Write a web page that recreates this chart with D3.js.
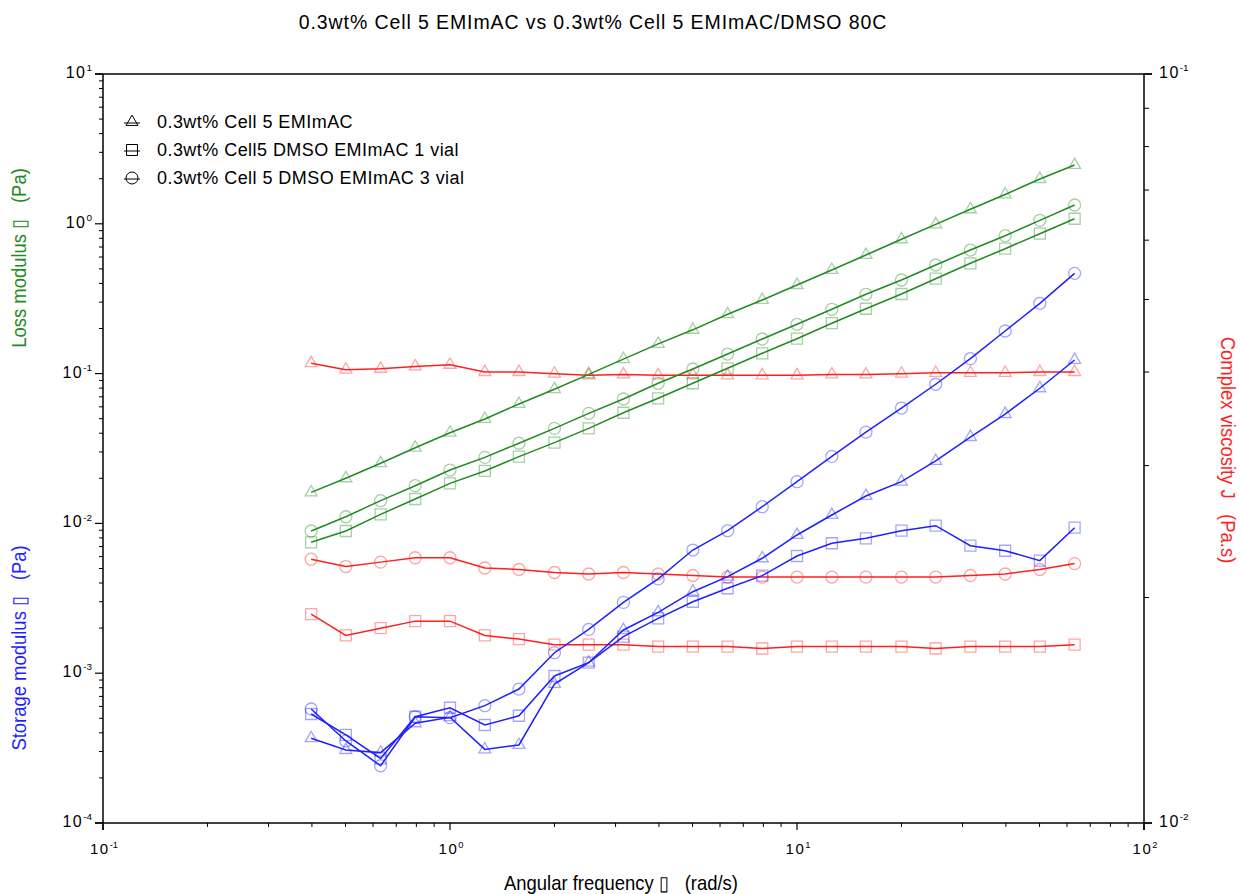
<!DOCTYPE html>
<html>
<head>
<meta charset="utf-8">
<script src="https://cdn.jsdelivr.net/npm/d3@7"></script>
<style>
  html, body { margin: 0; padding: 0; background: #fff; }
  svg { display: block; font-family: "Liberation Sans", Arial, sans-serif; }
  text { white-space: pre; }
</style>
</head>
<body>
<svg id="chart" width="1241" height="894"></svg>
<script>
// Angular frequency sweep (rad/s)
const freq = [0.398, 0.501, 0.631, 0.794, 1.0, 1.26, 1.58, 2.0, 2.51, 3.16, 3.98, 5.01,
              6.31, 7.94, 10.0, 12.6, 15.8, 20.0, 25.1, 31.6, 39.8, 50.1, 63.1];

// Loss modulus G'' (Pa)
const lossCell5 = [0.0161, 0.0200, 0.0252, 0.0320, 0.0403, 0.0498, 0.0627, 0.0786, 0.0989, 0.125, 0.158, 0.196,
                   0.249, 0.310, 0.390, 0.492, 0.619, 0.788, 0.992, 1.25, 1.57, 1.99, 2.47];
const lossVial1 = [0.00748, 0.00890, 0.0115, 0.01455, 0.0185, 0.0224, 0.0279, 0.0346, 0.0431, 0.0548, 0.0684, 0.0862,
                   0.1085, 0.1366, 0.171, 0.217, 0.271, 0.340, 0.430, 0.545, 0.682, 0.859, 1.081];
const lossVial3 = [0.0089, 0.01108, 0.01418, 0.01785, 0.0227, 0.0276, 0.0343, 0.0431, 0.0543, 0.0677, 0.0862, 0.1073,
                   0.1351, 0.1702, 0.2134, 0.2687, 0.3384, 0.4215, 0.531, 0.668, 0.833, 1.055, 1.335];

// Storage modulus G' (Pa)
const storCell5 = [3.68e-4, 3.07e-4, 2.95e-4, 4.63e-4, 5.08e-4, 3.10e-4, 3.32e-4, 8.47e-4, 1.175e-3, 1.943e-3, 2.55e-3, 3.50e-3,
                   4.41e-3, 5.85e-3, 8.37e-3, 1.138e-2, 1.524e-2, 1.90e-2, 2.61e-2, 3.77e-2, 5.37e-2, 7.98e-2, 0.1233];
const storVial1 = [5.34e-4, 3.87e-4, 2.70e-4, 5.12e-4, 5.88e-4, 4.51e-4, 5.20e-4, 9.58e-4, 1.175e-3, 1.753e-3, 2.325e-3, 3.00e-3,
                   3.69e-3, 4.48e-3, 6.06e-3, 7.37e-3, 7.95e-3, 8.94e-3, 9.65e-3, 7.10e-3, 6.57e-3, 5.64e-3, 9.36e-3];
const storVial3 = [5.77e-4, 3.53e-4, 2.41e-4, 5.12e-4, 5.05e-4, 6.07e-4, 7.84e-4, 1.37e-3, 1.96e-3, 2.97e-3, 4.26e-3, 6.64e-3,
                   8.94e-3, 1.293e-2, 1.899e-2, 2.80e-2, 4.07e-2, 5.89e-2, 8.49e-2, 0.1258, 0.1925, 0.2946, 0.467];

// Complex viscosity (Pa.s)
const viscCell5 = [0.0411, 0.0403, 0.0404, 0.0407, 0.0409, 0.0400, 0.0400, 0.0398, 0.0396, 0.0397, 0.0396, 0.0396,
                   0.0396, 0.0396, 0.0396, 0.0397, 0.0397, 0.0398, 0.0399, 0.0399, 0.0399, 0.0400, 0.0400];
const viscVial1 = [0.0190, 0.0178, 0.0182, 0.0186, 0.0186, 0.0178, 0.0176, 0.0173, 0.0173, 0.0173, 0.0172, 0.0172,
                   0.0172, 0.0171, 0.0172, 0.0172, 0.0172, 0.0172, 0.0171, 0.0172, 0.0172, 0.0172, 0.0173];
const viscVial3 = [0.0225, 0.0220, 0.0223, 0.0226, 0.0226, 0.0219, 0.0218, 0.0216, 0.0215, 0.0216, 0.0215, 0.0214,
                   0.0213, 0.0213, 0.0213, 0.0213, 0.0213, 0.0213, 0.0213, 0.0214, 0.0215, 0.0218, 0.0222];

// Samples and their marker shapes
const sampleNames = ["0.3wt% Cell 5 EMImAC", "0.3wt% Cell5 DMSO EMImAC 1 vial", "0.3wt% Cell 5 DMSO EMImAC 3 vial"];
const sampleShapes = ["triangle", "square", "circle"];

// Axis tick exponents
const xTickExps = [-1, 0, 1, 2];
const leftTickExps = [-4, -3, -2, -1, 0, 1];
const rightTickExps = [-2, -1];

const chartTitle = "0.3wt% Cell 5 EMImAC vs 0.3wt% Cell 5 EMImAC/DMSO 80C";
const xTitle = "Angular frequency \u25AF   (rad/s)";
const lossTitle = "Loss modulus \u25AF   (Pa)";
const storTitle = "Storage modulus \u25AF   (Pa)";
const viscTitle = "Complex viscosity J   (Pa.s)";

// ---- layout ----
const L = 103, R = 1144, T = 74, B = 823;
const GREEN = "#218a21", BLUE = "#1f1fff", RED = "#ff1f1f";

const svg = d3.select("#chart");
const x = d3.scaleLog().domain([0.1, 100]).range([L, R]);
const yL = d3.scaleLog().domain([1e-4, 10]).range([B, T]);
const yR = d3.scaleLog().domain([0.01, 0.1]).range([B, T]);

// ---- frame and ticks ----
const axisColor = "#000";
const frame = svg.append("g");
frame.append("line").attr("x1", L - 8).attr("x2", R + 8).attr("y1", T).attr("y2", T)
  .attr("stroke", axisColor).attr("stroke-width", 1.5);
frame.append("line").attr("x1", L - 8).attr("x2", R + 8).attr("y1", B).attr("y2", B)
  .attr("stroke", axisColor).attr("stroke-width", 1.5);
frame.append("line").attr("x1", L).attr("x2", L).attr("y1", T).attr("y2", B + 7)
  .attr("stroke", axisColor).attr("stroke-width", 1.5);
frame.append("line").attr("x1", R).attr("x2", R).attr("y1", T).attr("y2", B + 7)
  .attr("stroke", axisColor).attr("stroke-width", 1.5);

function minorTicks(exps) {
  const out = [];
  for (let i = 0; i < exps.length - 1; i++) {
    for (let m = 2; m <= 9; m++) out.push(m * Math.pow(10, exps[i]));
  }
  return out;
}

// bottom axis ticks (outward)
xTickExps.forEach(e => {
  frame.append("line").attr("x1", x(Math.pow(10, e))).attr("x2", x(Math.pow(10, e)))
    .attr("y1", B).attr("y2", B + 7).attr("stroke", axisColor).attr("stroke-width", 1.2);
});
minorTicks(xTickExps).forEach(v => {
  frame.append("line").attr("x1", x(v)).attr("x2", x(v))
    .attr("y1", B).attr("y2", B + 4).attr("stroke", axisColor).attr("stroke-width", 1);
});
// left axis ticks
leftTickExps.forEach(e => {
  frame.append("line").attr("x1", L - 8).attr("x2", L).attr("y1", yL(Math.pow(10, e))).attr("y2", yL(Math.pow(10, e)))
    .attr("stroke", axisColor).attr("stroke-width", 1.2);
});
minorTicks(leftTickExps).forEach(v => {
  frame.append("line").attr("x1", L - 4).attr("x2", L).attr("y1", yL(v)).attr("y2", yL(v))
    .attr("stroke", axisColor).attr("stroke-width", 1);
});
// right axis ticks
rightTickExps.forEach(e => {
  frame.append("line").attr("x1", R).attr("x2", R + 8).attr("y1", yR(Math.pow(10, e))).attr("y2", yR(Math.pow(10, e)))
    .attr("stroke", axisColor).attr("stroke-width", 1.2);
});
minorTicks(rightTickExps).forEach(v => {
  frame.append("line").attr("x1", R).attr("x2", R + 5).attr("y1", yR(v)).attr("y2", yR(v))
    .attr("stroke", axisColor).attr("stroke-width", 1);
});

// power-of-ten labels
function powLabel(g, px, py, e, anchor, size) {
  const t = g.append("text").attr("x", px).attr("y", py).attr("text-anchor", anchor)
    .attr("font-size", size).attr("fill", "#000").attr("letter-spacing", "1.5");
  t.append("tspan").text("10");
  t.append("tspan").attr("font-size", size * 0.62).attr("dy", -size * 0.42)
    .attr("letter-spacing", "0").text(e);
  return t;
}
const labels = svg.append("g");
xTickExps.forEach(e => powLabel(labels, x(Math.pow(10, e)) + 1, B + 31, e, "middle", 15));
leftTickExps.forEach(e => powLabel(labels, L - 11, yL(Math.pow(10, e)) + 4, e, "end", 16));
rightTickExps.forEach(e => powLabel(labels, R + 15, yR(Math.pow(10, e)) + 4, e, "start", 16));

// titles (axis titles use a horizontally condensed face)
svg.append("text").attr("x", 593).attr("y", 29).attr("text-anchor", "middle")
  .attr("font-size", 19.5).attr("letter-spacing", 0.9).attr("fill", "#000").text(chartTitle);

function axisTitle(tx, ty, rot, color, str) {
  svg.append("g").attr("transform", `translate(${tx},${ty}) rotate(${rot}) scale(0.9,1)`)
    .append("text").attr("text-anchor", "middle").attr("font-size", 20.5)
    .attr("fill", color).text(str);
}
axisTitle(621, 890, 0, "#000", xTitle);
axisTitle(26, 258, -90, GREEN, lossTitle);
axisTitle(26, 648, -90, BLUE, storTitle);
axisTitle(1221, 450, 90, RED, viscTitle);

// ---- data ----
const symbolOf = {
  triangle: d3.symbol().type(d3.symbolTriangle).size(62),
  square: d3.symbol().type(d3.symbolSquare).size(121),
  circle: d3.symbol().type(d3.symbolCircle).size(113)
};

const series = [
  { vals: viscCell5, y: yR, color: RED, shape: 0 },
  { vals: viscVial1, y: yR, color: RED, shape: 1 },
  { vals: viscVial3, y: yR, color: RED, shape: 2 },
  { vals: lossCell5, y: yL, color: GREEN, shape: 0 },
  { vals: lossVial1, y: yL, color: GREEN, shape: 1 },
  { vals: lossVial3, y: yL, color: GREEN, shape: 2 },
  { vals: storCell5, y: yL, color: BLUE, shape: 0 },
  { vals: storVial1, y: yL, color: BLUE, shape: 1 },
  { vals: storVial3, y: yL, color: BLUE, shape: 2 }
];

const plot = svg.append("g");
series.forEach(s => {
  const pts = freq.map((f, i) => [f, s.vals[i]]);
  const line = d3.line().x(d => x(d[0])).y(d => s.y(d[1]));
  plot.append("g").selectAll("path").data(pts).join("path")
    .attr("d", symbolOf[sampleShapes[s.shape]])
    .attr("transform", d => `translate(${x(d[0])},${s.y(d[1])})`)
    .attr("fill", "none").attr("stroke", s.color).attr("stroke-opacity", 0.4).attr("stroke-width", 1.3);
  plot.append("path").datum(pts).attr("d", line)
    .attr("fill", "none").attr("stroke", s.color).attr("stroke-width", 1.5);
});

// ---- legend ----
const legend = svg.append("g");
sampleNames.forEach((name, i) => {
  const cy = 122 + i * 28;
  legend.append("line").attr("x1", 124).attr("x2", 140).attr("y1", cy + 1).attr("y2", cy + 1)
    .attr("stroke", "#000").attr("stroke-width", 1);
  legend.append("path").attr("d", symbolOf[sampleShapes[i]])
    .attr("transform", `translate(132,${cy})`)
    .attr("fill", "none").attr("stroke", "#000").attr("stroke-width", 1);
  legend.append("text").attr("x", 157).attr("y", cy + 6).attr("font-size", 18)
    .attr("letter-spacing", 0.45).attr("fill", "#000").text(name);
});
</script>
</body>
</html>
